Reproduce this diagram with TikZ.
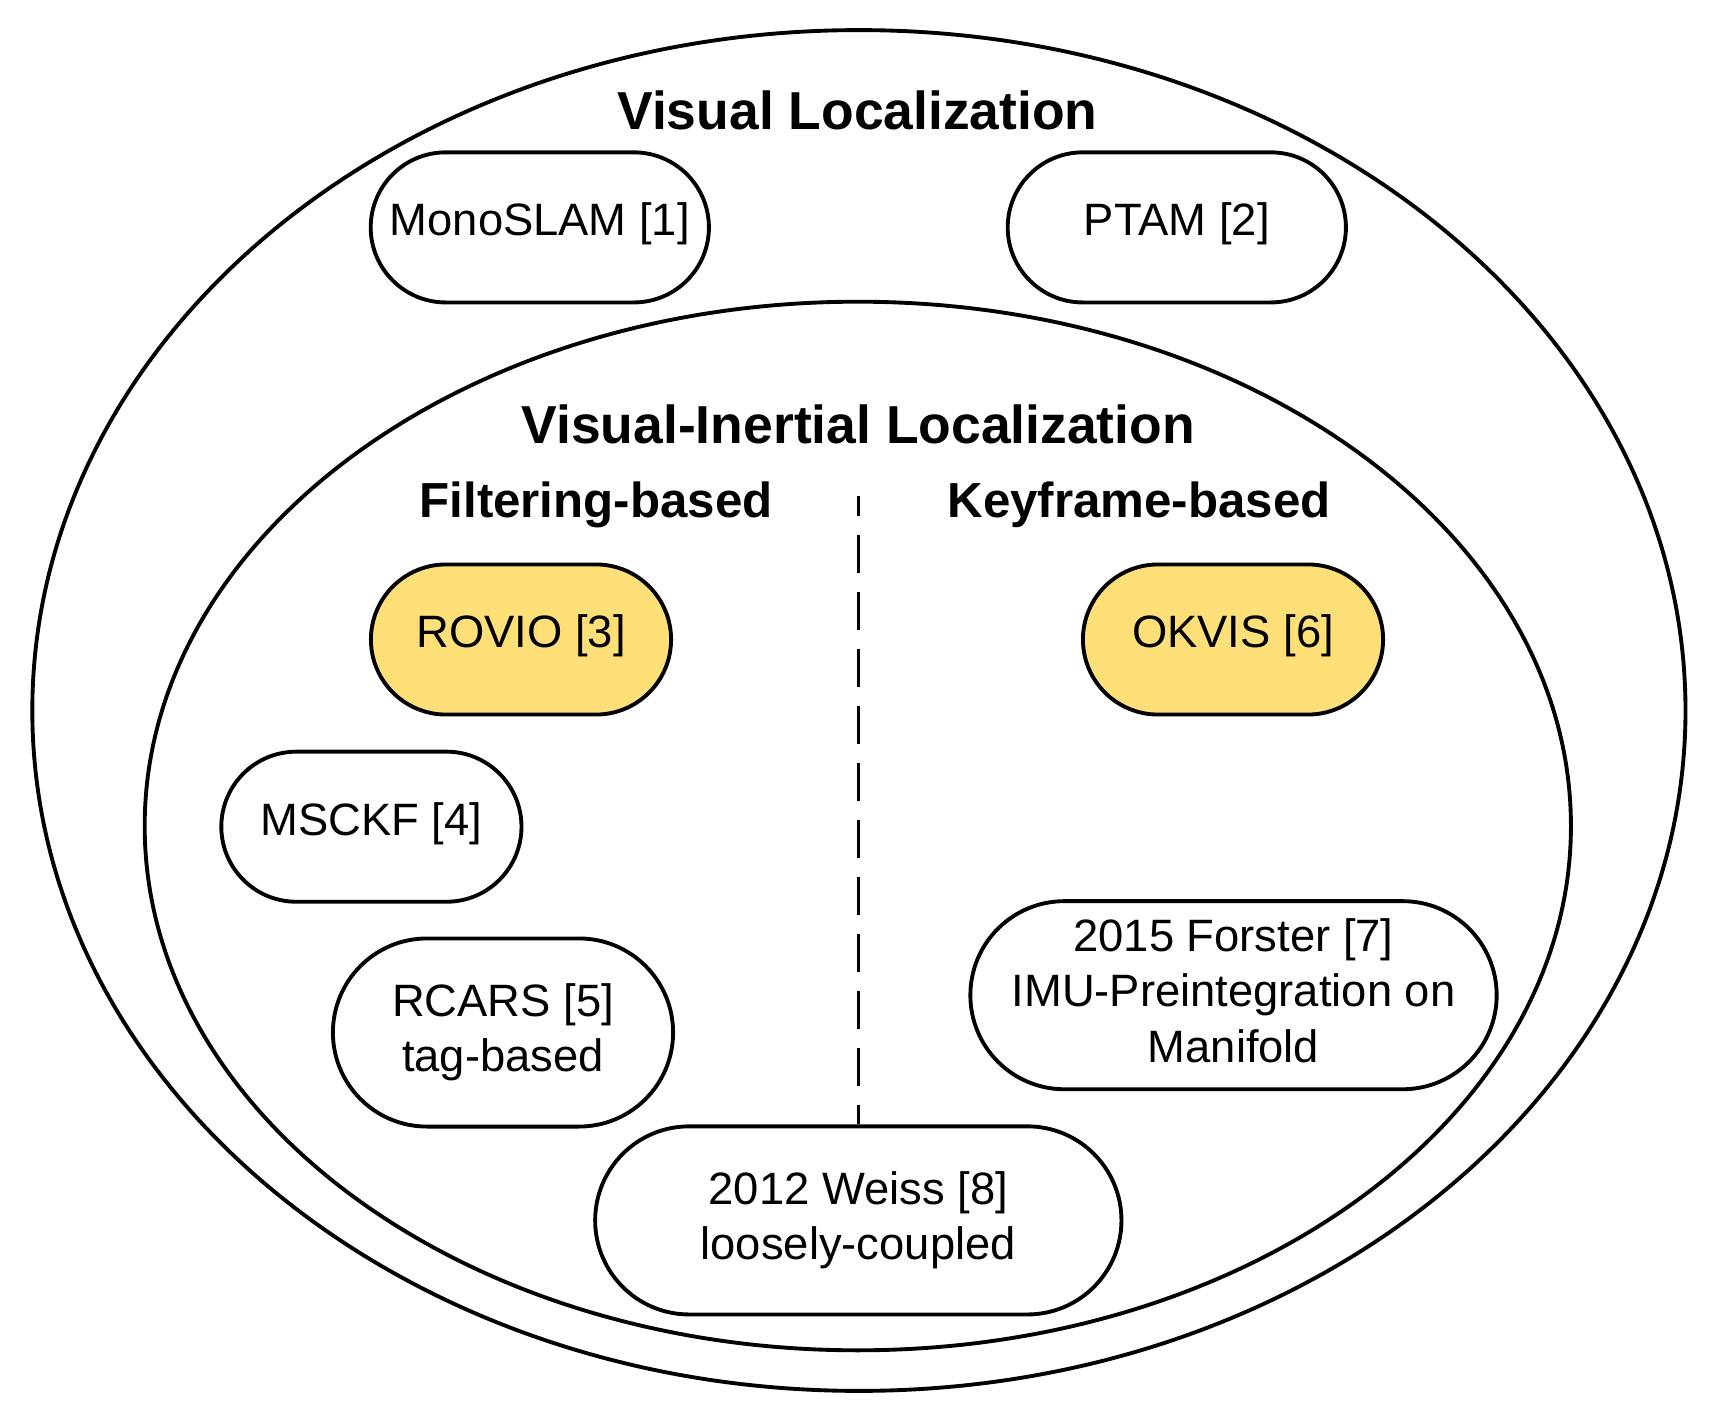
\documentclass[tikz,border=0pt]{standalone}
\usepackage{fontspec}
\setmainfont{Liberation Sans}
\usetikzlibrary{shapes.misc}

\definecolor{boxyellow}{RGB}{255,223,120}

\tikzset{
  box/.style={rounded rectangle, draw, line width=1.1pt, inner sep=0pt, align=center,
    font=\fontsize{12.9pt}{15.7pt}\selectfont},
  method/.style={box, minimum height=1.5cm, text height=9.4pt, text depth=4.6pt},
  method tall/.style={box, minimum height=1.88cm},
  heading/.style={inner sep=0pt, anchor=base, font=\bfseries\fontsize{15.2pt}{18pt}\selectfont},
  subheading/.style={inner sep=0pt, anchor=base, font=\bfseries\fontsize{14pt}{17pt}\selectfont},
  divider/.style={line width=0.85pt, dash pattern=on 10.8pt off 5.4pt, dash phase=5.1pt},
}

\begin{document}
\begin{tikzpicture}[x=0.01cm, y=-0.01cm]
\useasboundingbox (0,0) rectangle (1710,1425);

% Drawing the two ellipses
\draw [line width=1.1pt] (858.9,710.5) ellipse [x radius=8.261cm, y radius=6.80cm];
\draw [line width=1.1pt] (857.8,826.0) ellipse [x radius=7.127cm, y radius=5.24cm];

% Headings
\node [heading] (visual) at (857.5,130) {Visual Localization};
\node [heading] (inertial) at (858.3,444) {Visual-Inertial Localization};
\node [subheading] (filtering) at (596,518) {Filtering-based};
\node [subheading] (keyframe) at (1139,518) {Keyframe-based};

% Visual only
\node [method, minimum width=3.38cm] (monoslam) at (539.8,227.4) {MonoSLAM [1]};
\node [method, minimum width=3.38cm] (ptam) at (1176.8,227.4) {PTAM [2]};

% Filtering-based
\node [method, fill=boxyellow, minimum width=3.0cm] (rovio) at (521,639.5) {ROVIO [3]};
\node [method, minimum width=3.0cm] (msckf) at (371.4,826.7) {MSCKF [4]};
\node [method tall, minimum width=3.4cm] (rcars) at (503,1032.5) {RCARS [5]\\tag-based};

% Keyframe-based
\node [method, fill=boxyellow, minimum width=3.0cm] (okvis) at (1233,639.5) {OKVIS [6]};
\node [method tall, minimum width=5.26cm, text height=23.2pt, text depth=16.8pt] (forster) at (1233.5,995.2)
  {\begin{tabular}{@{}c@{}}2015 Forster [7]\\IMU-Preintegration on\\Manifold\end{tabular}};

% Loosely-coupled, on the split
\node [method tall, minimum width=5.26cm] (weiss) at (858.3,1220.4) {2012 Weiss [8]\\loosely-coupled};

% Split line
\coordinate (split) at (858.3,496);
\draw [divider] (split) -- (weiss.north);
\end{tikzpicture}
\end{document}
